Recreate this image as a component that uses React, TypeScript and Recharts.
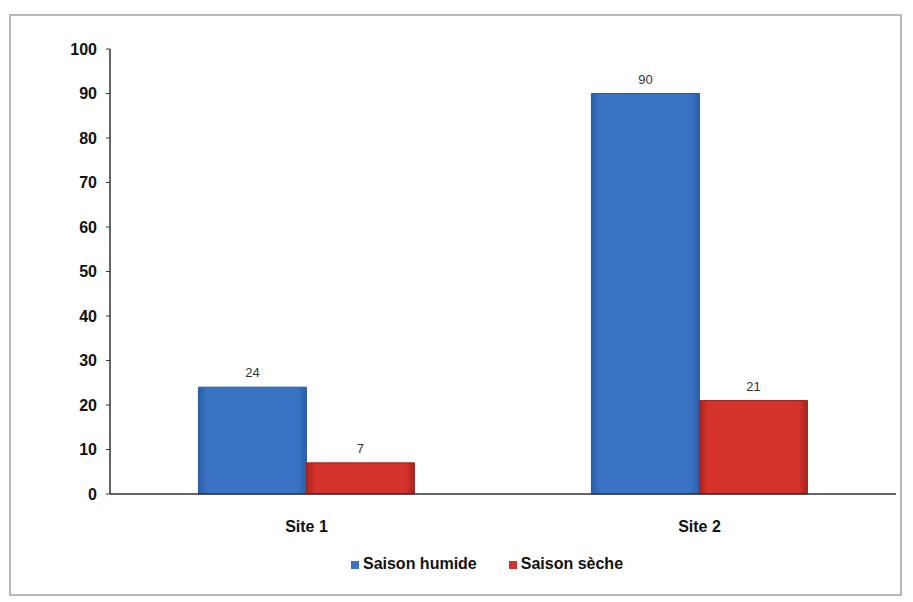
import React from "react"
import { BarChart, Bar, XAxis, YAxis, Legend, LabelList } from "recharts"

const sites = ["Site 1", "Site 2"]
const saisonHumide = [24, 90]
const saisonSeche = [7, 21]
const yTicks = [0, 10, 20, 30, 40, 50, 60, 70, 80, 90, 100]

const data = sites.map((site, i) => ({
  site,
  humide: saisonHumide[i],
  seche: saisonSeche[i],
}))

const font = "'Liberation Sans', Arial, sans-serif"

export default function App() {
  return (
    <div style={{ position: "absolute", left: 0, top: 0, width: 913, height: 602, background: "#fff", fontFamily: font }}>
      <div
        style={{
          position: "absolute",
          left: 9,
          top: 14,
          width: 893,
          height: 582,
          border: "2px solid #b8b8b8",
          boxSizing: "border-box",
        }}
      />
      <BarChart
        width={913}
        height={602}
        data={data}
        margin={{ top: 49, right: 17, bottom: 60, left: 0 }}
        barCategoryGap="22.5%"
        barGap={0}
      >
        <defs>
          <linearGradient id="blueGrad" x1="0" y1="0" x2="1" y2="0">
            <stop offset="0%" stopColor="#2c5ea8" />
            <stop offset="8%" stopColor="#3a72c4" />
            <stop offset="92%" stopColor="#3a72c4" />
            <stop offset="100%" stopColor="#2c5ea8" />
          </linearGradient>
          <linearGradient id="redGrad" x1="0" y1="0" x2="1" y2="0">
            <stop offset="0%" stopColor="#a82420" />
            <stop offset="8%" stopColor="#d3332b" />
            <stop offset="92%" stopColor="#d3332b" />
            <stop offset="100%" stopColor="#a82420" />
          </linearGradient>
        </defs>
        <XAxis
          dataKey="site"
          axisLine={{ stroke: "#333", strokeWidth: 1.5 }}
          tickLine={false}
          tickSize={0}
          tickMargin={27}
          tick={{ fontSize: 16, fontWeight: "bold", fill: "#111", fontFamily: font }}
        />
        <YAxis
          width={110}
          domain={[0, 100]}
          ticks={yTicks}
          interval={0}
          axisLine={{ stroke: "#333", strokeWidth: 1.5 }}
          tickLine={{ stroke: "#333" }}
          tickSize={4}
          tickMargin={9}
          tick={{ fontSize: 16, fontWeight: "bold", fill: "#111", fontFamily: font }}
        />
        <Legend
          iconType="square"
          iconSize={8}
          wrapperStyle={{ left: 110, width: 786, top: 555, fontSize: 16, fontWeight: "bold", color: "#111", fontFamily: font }}
          formatter={(value) => <span style={{ color: "#111", marginRight: 22 }}>{value}</span>}
        />
        <Bar dataKey="humide" name="Saison humide" fill="url(#blueGrad)" stroke="#2a5796" strokeWidth={1} legendType="square" isAnimationActive={false}>
          <LabelList dataKey="humide" position="top" offset={10} style={{ fontSize: 13, fill: "#333", fontFamily: font }} />
        </Bar>
        <Bar dataKey="seche" name="Saison sèche" fill="url(#redGrad)" stroke="#9a2420" strokeWidth={1} legendType="square" isAnimationActive={false}>
          <LabelList dataKey="seche" position="top" offset={10} style={{ fontSize: 13, fill: "#333", fontFamily: font }} />
        </Bar>
      </BarChart>
    </div>
  )
}
